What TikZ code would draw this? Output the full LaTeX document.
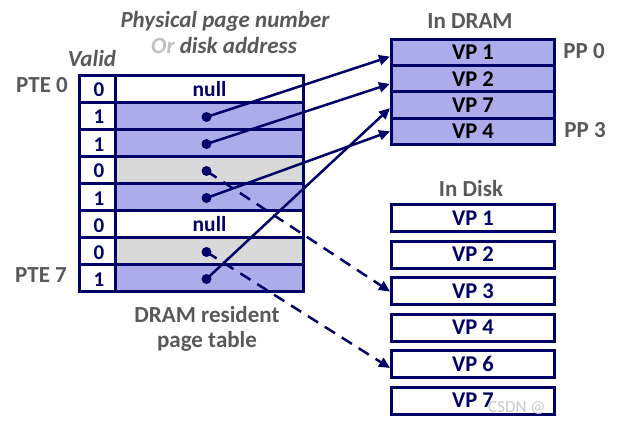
\documentclass[tikz,border=0pt]{standalone}
\usepackage{fontspec}
\setmainfont{Carlito}
\usetikzlibrary{arrows.meta}
\definecolor{navy}{RGB}{0,0,102}
\definecolor{lav}{RGB}{172,172,235}
\definecolor{lgray}{RGB}{217,217,217}
\definecolor{tgray}{RGB}{89,89,89}
\definecolor{ogray}{RGB}{191,191,191}
\definecolor{wmark}{RGB}{200,200,200}
\begin{document}
\begin{tikzpicture}[x=1pt,y=-1pt,
  cell/.style={draw=navy,line width=3pt,minimum height=27pt,inner sep=0pt,anchor=north west},
  vcell/.style={cell,minimum width=36pt},
  ccell/.style={cell,minimum width=188pt,text=navy,font=\fontsize{21.5}{21.5}\selectfont\bfseries},
  digit/.style={text=navy,font=\fontsize{21}{21}\selectfont\bfseries,inner sep=0pt,anchor=base},
  dot/.style={circle,fill=navy,inner sep=0pt,minimum size=10pt},
  dram/.style={draw=navy,fill=lav,line width=3pt,minimum width=163pt,minimum height=26.25pt,inner sep=0pt,anchor=north west,font=\fontsize{22.5}{22.5}\selectfont\bfseries},
  disk/.style={draw=navy,line width=3pt,minimum width=163pt,minimum height=27pt,inner sep=0pt,anchor=north west,text=navy,font=\fontsize{22.5}{22.5}\selectfont\bfseries},
  lbl/.style={text=tgray,font=\fontsize{23}{23}\selectfont\bfseries,inner sep=0pt,anchor=base},
  ilbl/.style={lbl,font=\fontsize{23}{23}\selectfont\bfseries\itshape},
  arr/.style={navy,line width=2.5pt,-{Triangle[length=11pt,width=10pt]}},
  darr/.style={arr,dash pattern=on 12pt off 8pt}
]
\useasboundingbox (0,0) rectangle (621,425);

% page table
\foreach \i/\d/\f/\t in {0/0/white/null,1/1/lav/,2/1/lav/,3/0/lgray/,4/1/lav/,5/0/white/null,6/0/lgray/,7/1/lav/}{
  \node[ccell,fill=\f] (c\i) at (114,{74+27*\i}) {\t};
  \node[vcell,fill=white] (v\i) at (78,{74+27*\i}) {};
  \node[digit] (b\i) at (99,{74+27*\i+23}) {\d};
}
\foreach \i in {1,2,3,4,6,7}{
  \node[dot] (p\i) at ([xshift=-3pt,yshift=-1pt]c\i.center) {};
}

% DRAM
\node[dram] (d1) at (390,38) {VP 1};
\node[dram] (d2) at (390,64.25) {VP 2};
\node[dram] (d3) at (390,90.5) {VP 7};
\node[dram] (d4) at (390,116.75) {VP 4};

% Disk
\node[disk] (k1) at (390,203) {VP 1};
\node[disk] (k2) at (390,239.5) {VP 2};
\node[disk] (k3) at (390,276) {VP 3};
\node[disk] (k4) at (390,312.5) {VP 4};
\node[disk] (k5) at (390,349) {VP 6};
\node[disk] (k6) at (390,385.5) {VP 7};

% labels
\node[ilbl] (ppn) at (225,28) {Physical page number};
\node[ilbl] (oda) at (224,54) {\textcolor{ogray}{Or} disk address};
\node[ilbl] (valid) at (92,67) {Valid};
\node[lbl] (pte0) at (42,93) {PTE 0};
\node[lbl] (pte7) at (41,282) {PTE 7};
\node[lbl] (drt1) at (207,322) {DRAM resident};
\node[lbl] (drt2) at (207,347) {page table};
\node[lbl] (indram) at (470,29) {In DRAM};
\node[lbl] (indisk) at (471,196) {In Disk};
\node[lbl] (pp0) at (584,59) {PP 0};
\node[lbl] (pp3) at (585,138) {PP 3};

% connectors
\draw[arr] (p1.center) -- ([yshift=-4pt]d1.west);
\draw[arr] (p2.center) -- ([yshift=-5pt]d2.west);
\draw[arr] (p7.center) -- ([yshift=-3pt]d3.west);
\draw[arr] (p4.center) -- (d4.west);
\draw[darr] (p3.center) -- ([yshift=-0.5pt]k3.west);
\draw[darr] (p6.center) -- ([yshift=-4pt]k5.west);

% watermark
\node[text=wmark,font=\fontsize{17}{17}\selectfont,inner sep=0pt,anchor=base west] (wm) at (488,412) {CSDN @};
\end{tikzpicture}
\end{document}
